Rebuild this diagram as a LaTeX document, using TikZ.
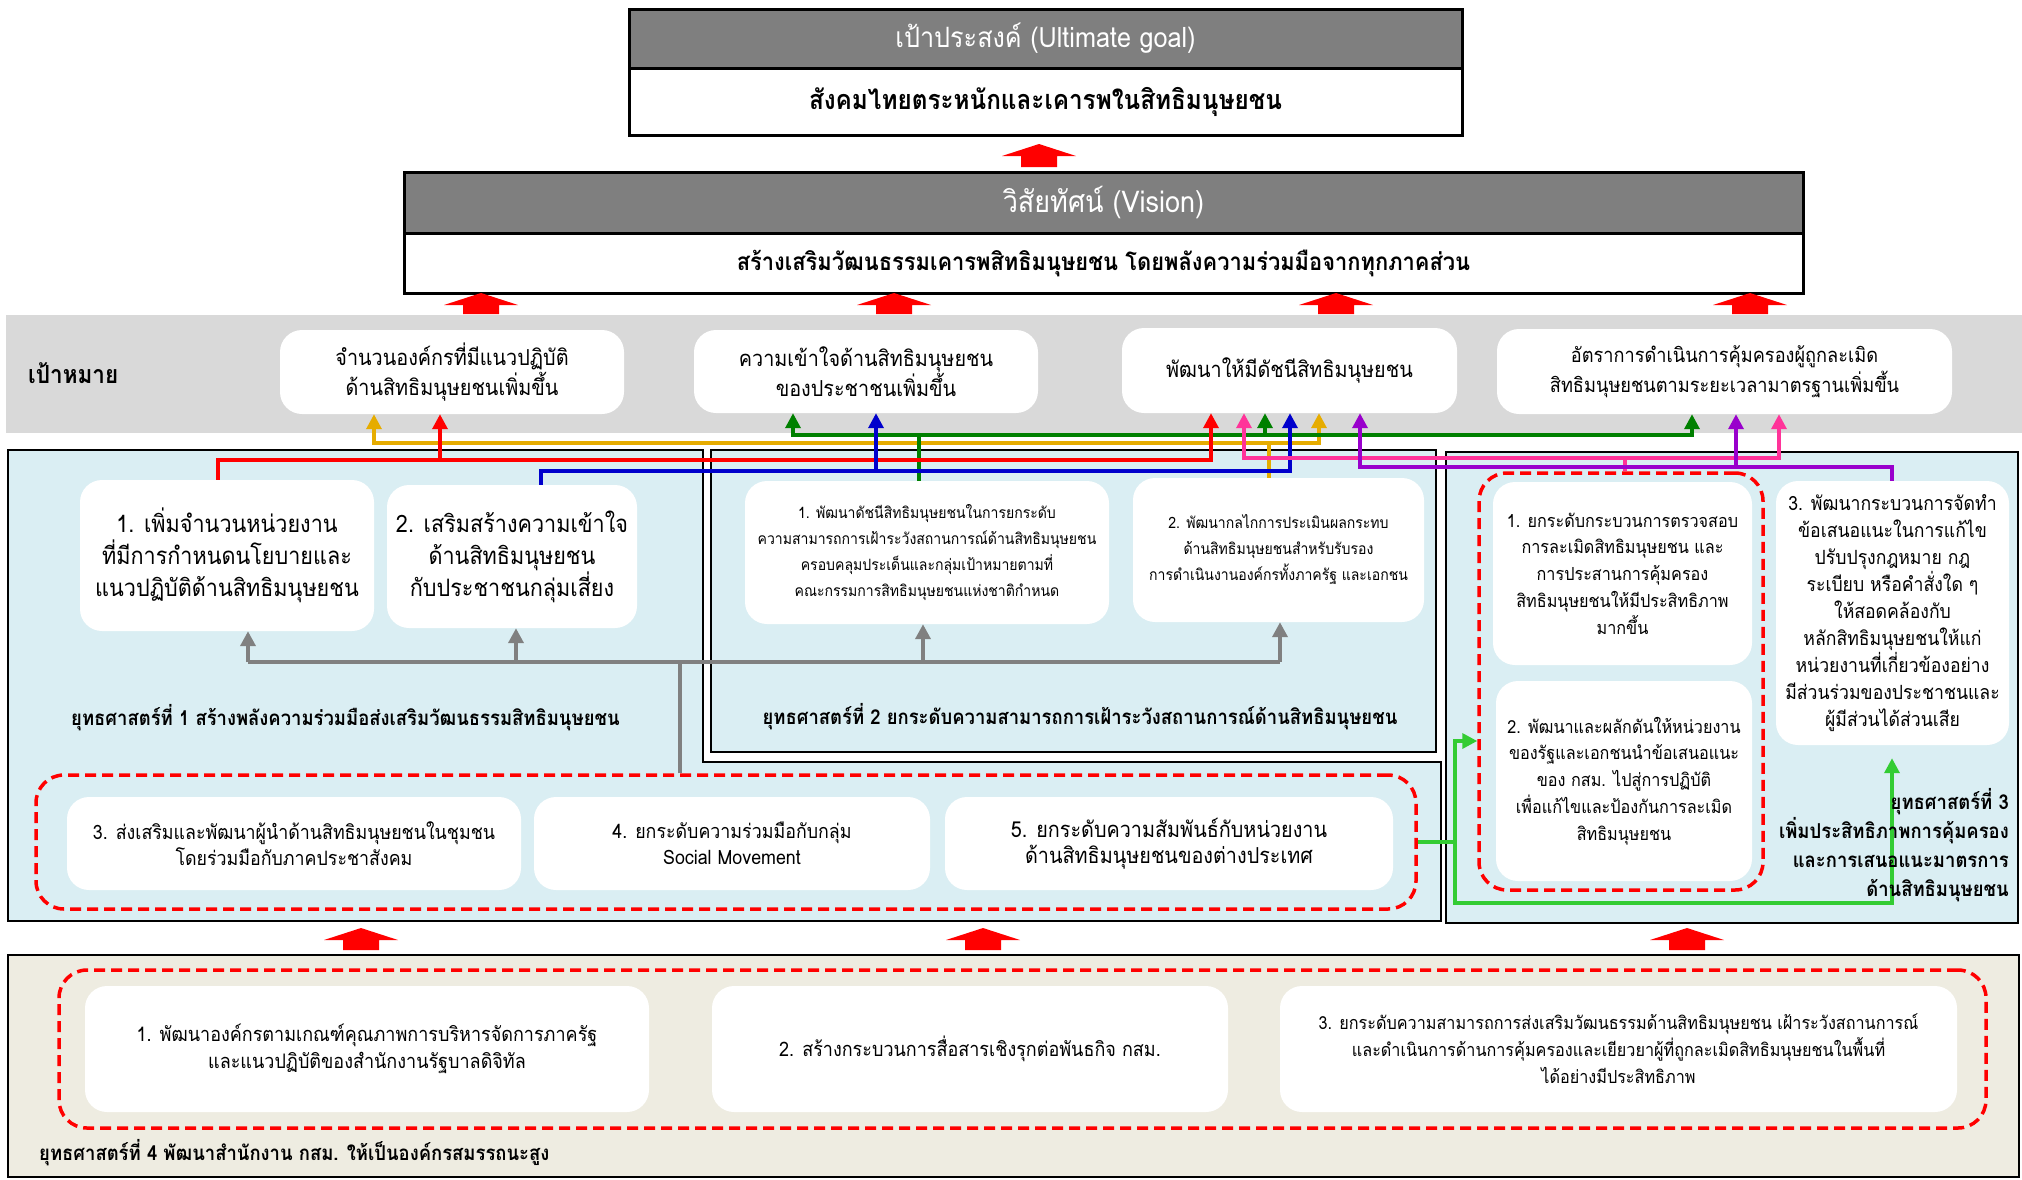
\documentclass[tikz,border=0pt]{standalone}
\usepackage{fontspec}
\setmainfont[Script=Thai,FakeStretch=0.9]{Loma}
\usetikzlibrary{arrows.meta}
\definecolor{hdr}{HTML}{7F7F7F}
\definecolor{band}{HTML}{D9D9D9}
\definecolor{lblue}{HTML}{DAEEF3}
\definecolor{beige}{HTML}{EEECE1}
\definecolor{cred}{HTML}{FF0000}
\definecolor{cgold}{HTML}{E6AC00}
\definecolor{cgreen}{HTML}{008000}
\definecolor{cblue}{HTML}{0000CC}
\definecolor{cpink}{HTML}{FF3399}
\definecolor{cpurple}{HTML}{9900CC}
\definecolor{lgreen}{HTML}{33CC33}
\definecolor{cgray}{HTML}{808080}
\newcommand\fs[2]{\fontsize{#1}{#2}\selectfont}
\newcommand\blockup[3]{%
  \fill[cred] ({#1-37},{#2+12}) -- (#1,#2) -- ({#1+37},{#2+12}) -- ({#1+18},{#2+12})
    -- ({#1+18},#3) -- ({#1-18},#3) -- ({#1-18},{#2+12}) -- cycle;}
\tikzset{
  wbox/.style={fill=white, rounded corners=22pt, align=center, inner sep=0pt},
  hbox/.style={draw=black, line width=3pt, fill=hdr, text=white, inner sep=0pt},
  bbox/.style={draw=black, line width=3pt, fill=white, inner sep=0pt},
  conn/.style={line width=3.5pt},
  tipa/.style={-{Triangle[length=15pt,width=15pt]}},
  reddash/.style={draw=cred, line width=3.5pt, dash pattern=on 11pt off 6pt, rounded corners=28pt, inner sep=0pt},
  region/.style={draw=black, line width=2pt, inner sep=0pt},
  lbl/.style={font=\bfseries\fs{20.5}{29}, inner sep=0pt},
  gfont/.style={font=\fs{22}{30}},
  s1font/.style={font=\fs{24}{32}},
  s2font/.style={font=\fs{15.6}{26}},
  s3font/.style={font=\fs{18}{26.8}},
  s5font/.style={font=\fs{19.8}{26}},
  s4font/.style={font=\fs{20}{27}},
}
\begin{document}
\begin{tikzpicture}[x=1pt,y=-1pt]
\useasboundingbox (0,0) rectangle (2022,1179);
\fill[white] (0,0) rectangle (2022,1179);
% ---------- goal & vision
\node[hbox, minimum width=833pt, minimum height=59pt, font=\fs{28}{32}] (goalh) at (1045.5,38.5) {เป้าประสงค์ (Ultimate goal)};
\node[bbox, minimum width=833pt, minimum height=67pt, font=\bfseries\fs{27}{34}] (goalb) at (1045.5,102) {สังคมไทยตระหนักและเคารพในสิทธิมนุษยชน};
\blockup{1039}{144}{167}
\node[hbox, minimum width=1399pt, minimum height=61pt, font=\fs{30}{34}] (vish) at (1103.5,202.5) {วิสัยทัศน์ (Vision)};
\node[bbox, minimum width=1399pt, minimum height=60pt, font=\bfseries\fs{24.3}{30}] (visb) at (1103.5,263) {สร้างเสริมวัฒนธรรมเคารพสิทธิมนุษยชน โดยพลังความร่วมมือจากทุกภาคส่วน};
\blockup{481}{293}{314}
\blockup{894}{293}{314}
\blockup{1336}{293}{314}
\blockup{1750}{293}{314}
% ---------- goals band
\fill[band] (6,315) rectangle (2022,433);
\node[anchor=west, font=\bfseries\fs{25}{30}, inner sep=0pt] (bandlbl) at (28,373) {เป้าหมาย};
\node[wbox, gfont, minimum width=344pt, minimum height=84pt] (g1) at (452,372) {จำนวนองค์กรที่มีแนวปฏิบัติ\\ด้านสิทธิมนุษยชนเพิ่มขึ้น};
\node[wbox, gfont, minimum width=344pt, minimum height=83pt] (g2) at (866,371.5) {ความเข้าใจด้านสิทธิมนุษยชน\\ของประชาชนเพิ่มขึ้น};
\node[wbox, gfont, minimum width=335pt, minimum height=85pt] (g3) at (1289.5,370.5) {พัฒนาให้มีดัชนีสิทธิมนุษยชน};
\node[wbox, font=\fs{20.2}{30}, minimum width=455pt, minimum height=85pt] (g4) at (1724.5,371.5) {อัตราการดำเนินการคุ้มครองผู้ถูกละเมิด\\สิทธิมนุษยชนตามระยะเวลามาตรฐานเพิ่มขึ้น};
% ---------- strategy regions
\path[region, fill=lblue] (8,450) -- (703,450) -- (703,762) -- (1441,762) -- (1441,921) -- (8,921) -- cycle;
\node[region, fill=lblue, minimum width=725pt, minimum height=302pt] (st2) at (1073.5,601) {};
\node[region, fill=lblue, minimum width=572pt, minimum height=471pt] (st3) at (1732,687.5) {};
\node[region, fill=beige, minimum width=2011pt, minimum height=222pt] (st4) at (1013.5,1066) {};
% dashed groups
\node[reddash, minimum width=1380pt, minimum height=134pt] (d1) at (726,842) {};
\node[reddash, minimum width=284pt, minimum height=417pt] (d3) at (1621,681.5) {};
\node[reddash, minimum width=1927pt, minimum height=158pt] (d4) at (1022.5,1049) {};
% ---------- strategy 1
\node[wbox, s1font, minimum width=294pt, minimum height=151pt] (s11) at (227,555.5) {1. เพิ่มจำนวนหน่วยงาน\\ที่มีการกำหนดนโยบายและ\\แนวปฏิบัติด้านสิทธิมนุษยชน};
\node[wbox, s1font, minimum width=250pt, minimum height=143pt] (s12) at (512,556.5) {2. เสริมสร้างความเข้าใจ\\ด้านสิทธิมนุษยชน\\กับประชาชนกลุ่มเสี่ยง};
\node[wbox, s5font, minimum width=454pt, minimum height=93pt] (s13) at (294,843.5) {3. ส่งเสริมและพัฒนาผู้นำด้านสิทธิมนุษยชนในชุมชน\\โดยร่วมมือกับภาคประชาสังคม};
\node[wbox, s5font, minimum width=396pt, minimum height=93pt] (s14) at (732,843.5) {4. ยกระดับความร่วมมือกับกลุ่ม\\Social Movement};
\node[wbox, font=\fs{22}{26}, minimum width=448pt, minimum height=93pt] (s15) at (1169,843.5) {5. ยกระดับความสัมพันธ์กับหน่วยงาน\\ด้านสิทธิมนุษยชนของต่างประเทศ};
\node[lbl] (l1) at (345.5,718) {ยุทธศาสตร์ที่ 1 สร้างพลังความร่วมมือส่งเสริมวัฒนธรรมสิทธิมนุษยชน};
% ---------- strategy 2
\node[wbox, s2font, minimum width=364pt, minimum height=143pt] (s21) at (927,552.5) {1. พัฒนาดัชนีสิทธิมนุษยชนในการยกระดับ\\ความสามารถการเฝ้าระวังสถานการณ์ด้านสิทธิมนุษยชน\\ครอบคลุมประเด็นและกลุ่มเป้าหมายตามที่\\คณะกรรมการสิทธิมนุษยชนแห่งชาติกำหนด};
\node[wbox, s2font, minimum width=291pt, minimum height=144pt] (s22) at (1278.5,550) {2. พัฒนากลไกการประเมินผลกระทบ\\ด้านสิทธิมนุษยชนสำหรับรับรอง\\การดำเนินงานองค์กรทั้งภาครัฐ และเอกชน};
\node[lbl] (l2) at (1080,717) {ยุทธศาสตร์ที่ 2 ยกระดับความสามารถการเฝ้าระวังสถานการณ์ด้านสิทธิมนุษยชน};
% ---------- strategy 3
\node[wbox, s3font, minimum width=259pt, minimum height=183pt] (s31) at (1622.5,573.5) {1. ยกระดับกระบวนการตรวจสอบ\\การละเมิดสิทธิมนุษยชน และ\\การประสานการคุ้มครอง\\สิทธิมนุษยชนให้มีประสิทธิภาพ\\มากขึ้น};
\node[wbox, s3font, minimum width=256pt, minimum height=200pt] (s32) at (1624,781) {2. พัฒนาและผลักดันให้หน่วยงาน\\ของรัฐและเอกชนนำข้อเสนอแนะ\\ของ กสม. ไปสู่การปฏิบัติ\\เพื่อแก้ไขและป้องกันการละเมิด\\สิทธิมนุษยชน};
\node[wbox, font=\fs{19.6}{27}, minimum width=233pt, minimum height=264pt] (s33) at (1892.5,613) {3. พัฒนากระบวนการจัดทำ\\ข้อเสนอแนะในการแก้ไข\\ปรับปรุงกฎหมาย กฎ\\ระเบียบ หรือคำสั่งใด ๆ\\ให้สอดคล้องกับ\\หลักสิทธิมนุษยชนให้แก่\\หน่วยงานที่เกี่ยวข้องอย่าง\\มีส่วนร่วมของประชาชนและ\\ผู้มีส่วนได้ส่วนเสีย};
% ---------- strategy 4
\node[wbox, s4font, minimum width=564pt, minimum height=126pt] (s41) at (367,1049) {1. พัฒนาองค์กรตามเกณฑ์คุณภาพการบริหารจัดการภาครัฐ\\และแนวปฏิบัติของสำนักงานรัฐบาลดิจิทัล};
\node[wbox, s4font, minimum width=516pt, minimum height=126pt] (s42) at (970,1049) {2. สร้างกระบวนการสื่อสารเชิงรุกต่อพันธกิจ กสม.};
\node[wbox, font=\fs{18}{27}, minimum width=677pt, minimum height=126pt] (s43) at (1618.5,1049) {3. ยกระดับความสามารถการส่งเสริมวัฒนธรรมด้านสิทธิมนุษยชน เฝ้าระวังสถานการณ์\\และดำเนินการด้านการคุ้มครองและเยียวยาผู้ที่ถูกละเมิดสิทธิมนุษยชนในพื้นที่\\ได้อย่างมีประสิทธิภาพ};
\node[lbl, anchor=west] (l4) at (39,1153) {ยุทธศาสตร์ที่ 4 พัฒนาสำนักงาน กสม. ให้เป็นองค์กรสมรรถนะสูง};
\blockup{361}{928}{950}
\blockup{983}{928}{950}
\blockup{1687}{928}{950}
% ---------- gray connector
\coordinate (gj) at (680,662);
\coordinate (ga1) at (248,662);
\coordinate (ga2) at (516,662);
\coordinate (ga3) at (923,662);
\coordinate (ga4) at (1280,662);
\draw[cgray, line width=4pt] (d1.north -| gj) -- (gj);
\draw[cgray, line width=4pt] (ga1) -- (ga4);
\foreach \a/\b in {ga1/s11, ga2/s12, ga3/s21, ga4/s22}
  \draw[cgray, line width=4pt, tipa] (\a) -- (\b.south -| \a);
% ---------- light green connector
\coordinate (lk) at (1455,741);
\coordinate (lm) at (1455,903);
\coordinate (ln) at (1892,903);
\draw[conn, lgreen, tipa] (d1.east) -| (lk) -- (d3.west |- lk);
\draw[conn, lgreen, tipa, shorten >=13pt] (lk |- d1.east) -- (lm) -- (ln) -- (s33.south -| ln);
\node[lbl, anchor=east, align=right] (l3) at (2009,845) {ยุทธศาสตร์ที่ 3\\เพิ่มประสิทธิภาพการคุ้มครอง\\และการเสนอแนะมาตรการ\\ด้านสิทธิมนุษยชน};
% ---------- coloured connectors to goals
\coordinate (ya) at (374,443); \coordinate (yb) at (1319,443); \coordinate (ys) at (1269,443);
\draw[conn, cgold, tipa] (s22.north -| ys) -- (ys) -- (yb) -- (g3.south -| yb);
\draw[conn, cgold, tipa] (ys) -- (ya) -- (g1.south -| ya);
\coordinate (ks) at (919,435); \coordinate (kl) at (793,435); \coordinate (km) at (1265,435); \coordinate (kr) at (1692,435);
\draw[conn, cgreen, tipa] (s21.north -| ks) -- (ks) -- (kr) -- (g4.south -| kr);
\draw[conn, cgreen, tipa] (ks) -- (kl) -- (g2.south -| kl);
\draw[conn, cgreen, tipa] (km) -- (g3.south -| km);
\coordinate (ra) at (218,460); \coordinate (rb) at (1211,460); \coordinate (rg) at (440,460);
\draw[conn, cred, tipa] (s11.north -| ra) -- (ra) -- (rb) -- (g3.south -| rb);
\draw[conn, cred, tipa] (rg) -- (g1.south -| rg);
\coordinate (ba) at (541,471); \coordinate (bb) at (1290,471); \coordinate (bg) at (876,471);
\draw[conn, cblue, tipa] (s12.north -| ba) -- (ba) -- (bb) -- (g3.south -| bb);
\draw[conn, cblue, tipa] (bg) -- (g2.south -| bg);
\coordinate (ps) at (1625,458); \coordinate (pl) at (1244,458); \coordinate (pr) at (1779,458);
\draw[conn, cpink, tipa] (d3.north -| ps) -- (ps) -- (pr) -- (g4.south -| pr);
\draw[conn, cpink, tipa] (ps) -- (pl) -- (g3.south -| pl);
\coordinate (us) at (1892,467); \coordinate (ul) at (1360,467); \coordinate (um) at (1736,467);
\draw[conn, cpurple, tipa] (s33.north -| us) -- (us) -- (ul) -- (g3.south -| ul);
\draw[conn, cpurple, tipa] (um) -- (g4.south -| um);
\end{tikzpicture}
\end{document}
